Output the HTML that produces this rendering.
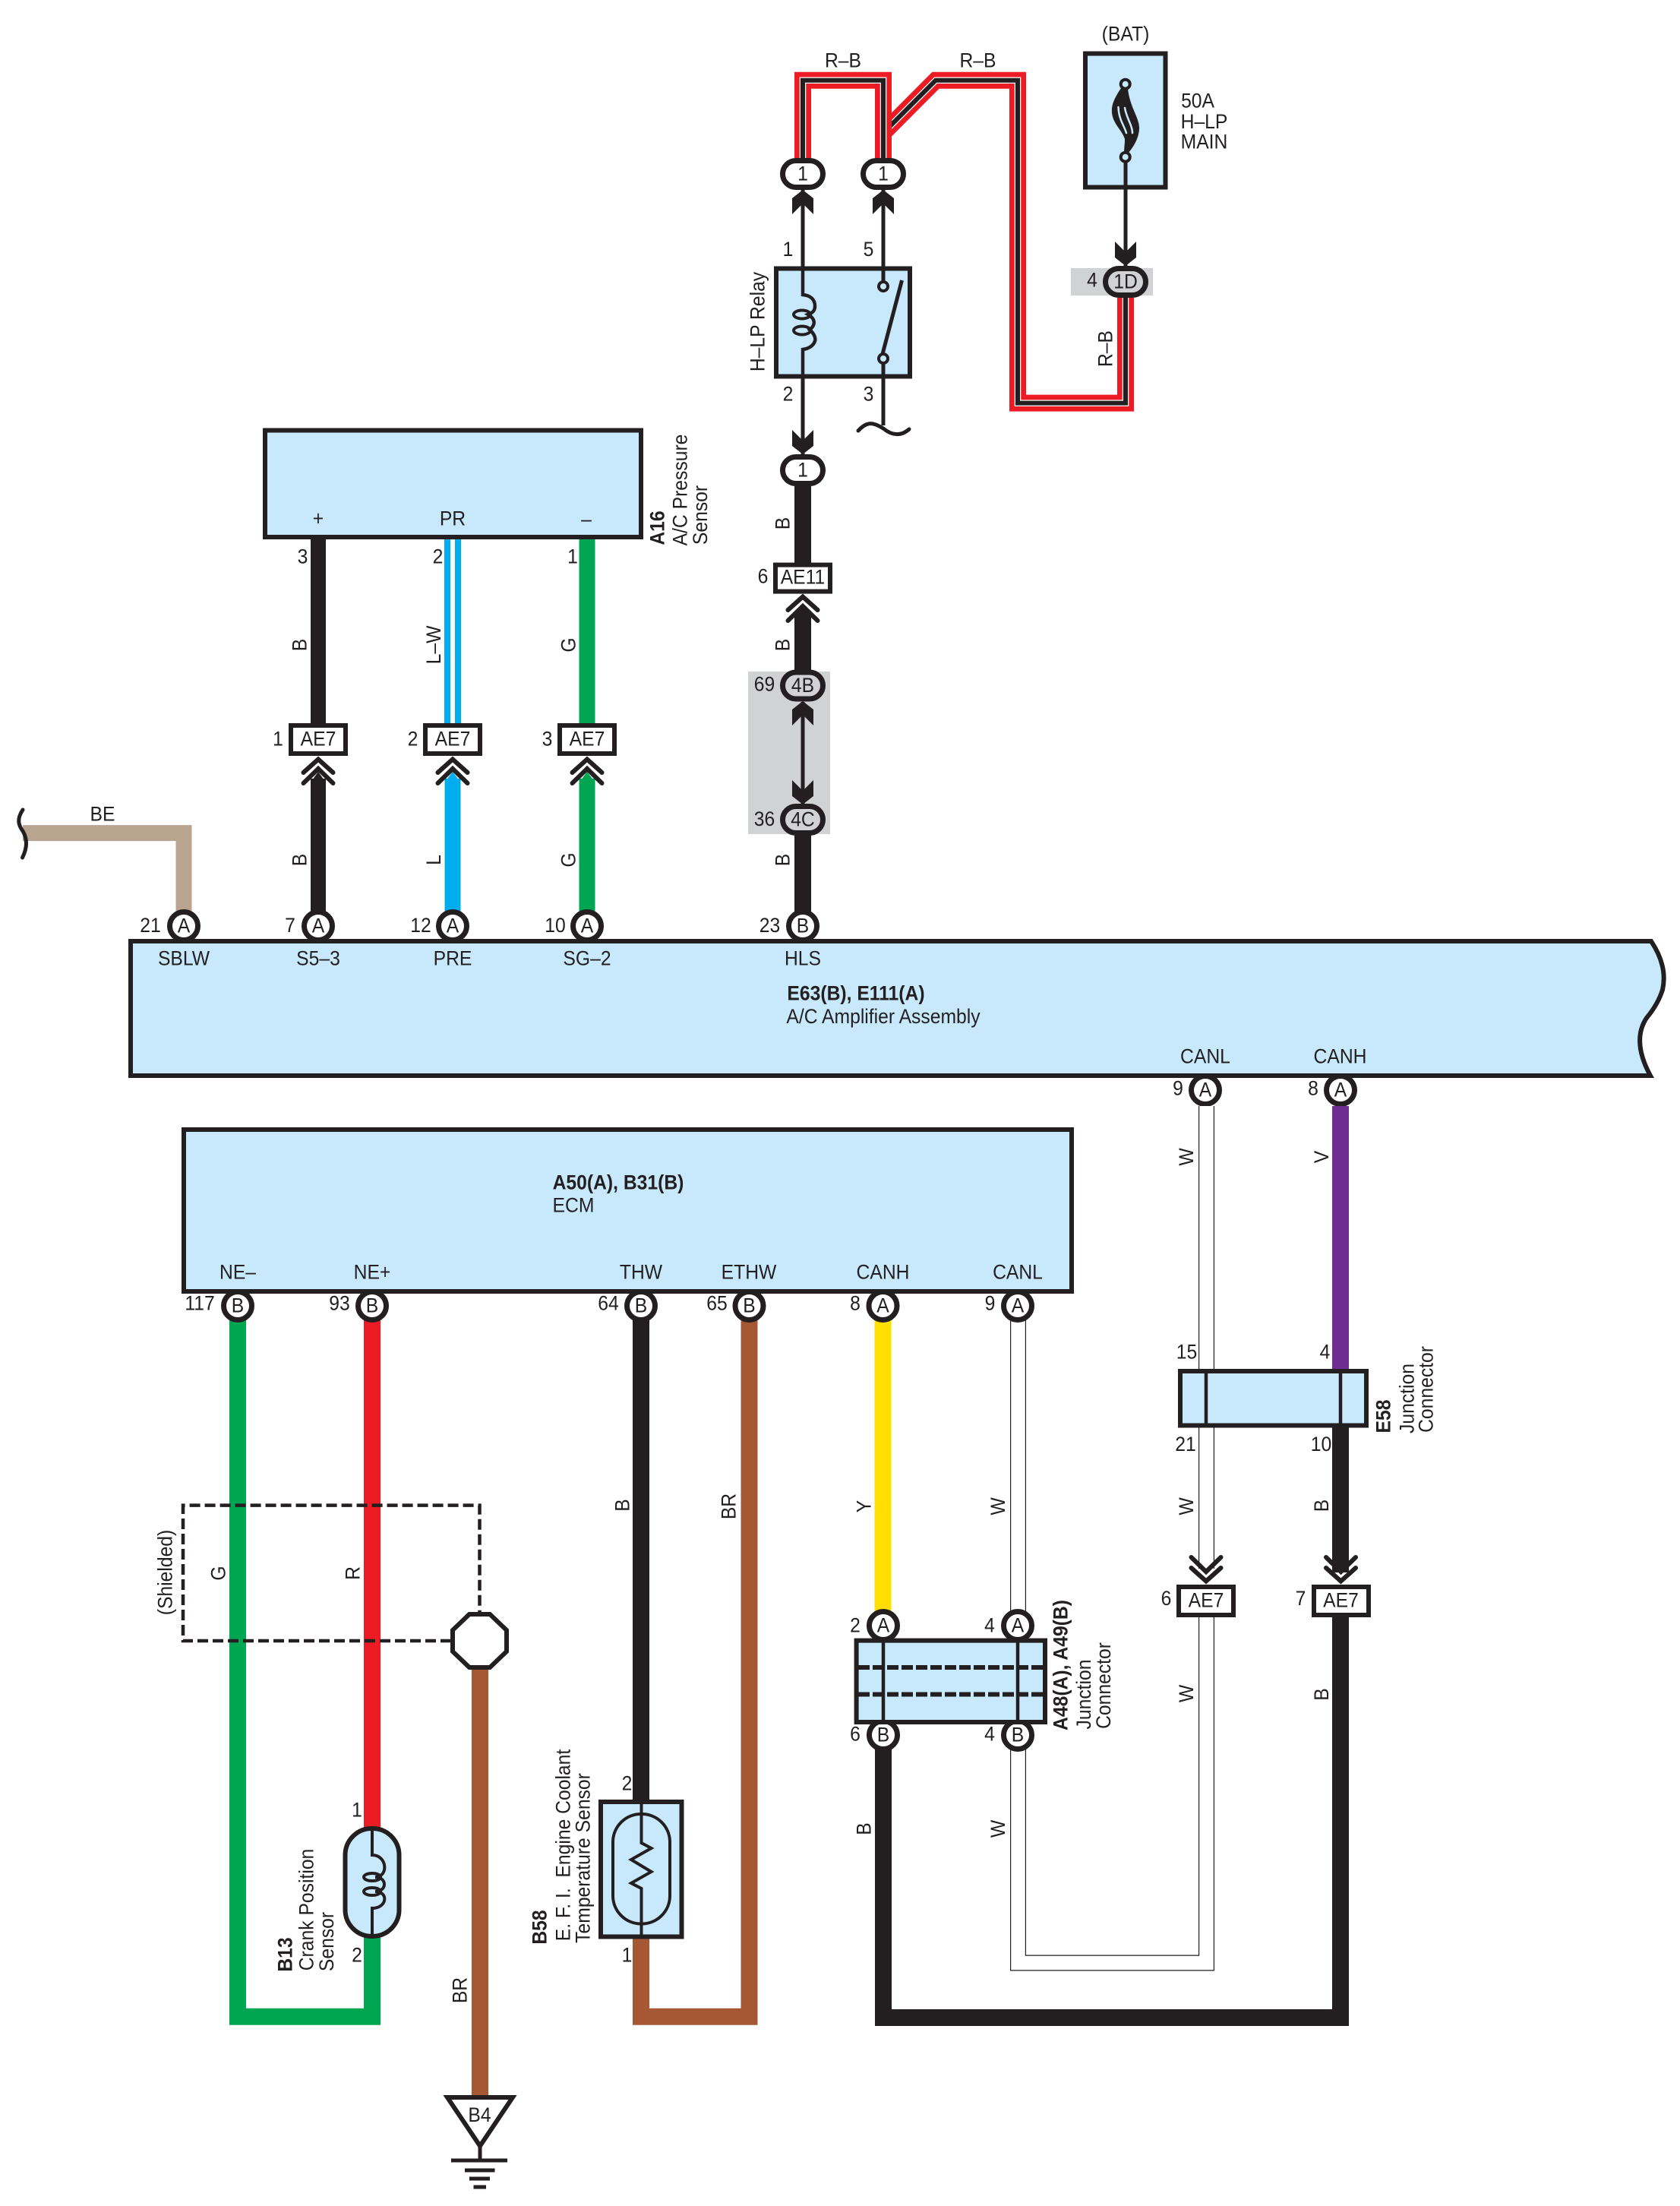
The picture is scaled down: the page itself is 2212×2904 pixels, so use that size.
<!DOCTYPE html>
<html><head><meta charset="utf-8"><title>A/C Amplifier Wiring Diagram</title>
<style>
html,body{margin:0;padding:0;background:#fff}
svg{display:block}
text{font-family:"Liberation Sans",sans-serif;font-size:27px;fill:#231f20;text-anchor:middle;dominant-baseline:central;transform-box:fill-box;transform-origin:center;transform:scaleX(.915)}
.b{font-weight:700}
.box{fill:#c7e9fb;stroke:#231f20;stroke-width:6;stroke-linejoin:miter}
.w{fill:none;stroke-linejoin:miter}
.k{stroke:#231f20}
.c{fill:#fff;stroke:#231f20;stroke-width:7}
.o{fill:#fff;stroke:#231f20;stroke-width:7}
.og{fill:#d1d2d4;stroke:#231f20;stroke-width:7}
.lb{fill:#fff;stroke:#231f20;stroke-width:6}
</style></head><body>
<svg xmlns="http://www.w3.org/2000/svg" width="2212" height="2904" viewBox="0 0 2212 2904">
<defs>
<g id="cu"><path d="M-19.5 22L0 4.5L19.5 22M-19.5 36L0 17L19.5 36" fill="none" stroke="#231f20" stroke-width="6" stroke-linecap="round" stroke-linejoin="miter"/></g>
<polygon id="au" points="0,0 14,11 14,32 0,18 -14,32 -14,11" fill="#231f20"/>
</defs>

<!-- gray backgrounds -->
<rect x="1410" y="353" width="108" height="36" fill="#d1d2d4"/>
<rect x="985" y="884" width="108" height="214" fill="#d1d2d4"/>

<!-- R-B wires -->
<g class="w">
<path d="M1160 178L1232 105.7H1340V530.6H1482V392" stroke="#ed1c24" stroke-width="22"/>
<path d="M1160 178L1232 105.7H1340V530.6H1482V392" stroke="#fff" stroke-width="8.5"/>
<path d="M1160 178L1232 105.7H1340V530.6H1482V392" stroke="#231f20" stroke-width="6"/>
<path d="M1057 212V105.7H1163V212" stroke="#ed1c24" stroke-width="22"/>
<path d="M1057 212V105.7H1163V212" stroke="#fff" stroke-width="8.5"/>
<path d="M1057 212V105.7H1163V212" stroke="#231f20" stroke-width="6"/>
</g>

<!-- thin lines top -->
<g class="w k" stroke-width="5">
<path d="M1057 250V600"/>
<path d="M1163 250V377"/>
<path d="M1163 472V560"/>
<path d="M1482 205V350"/>
<path d="M1057 924V1058"/>
<path d="M1130 567C1142 554 1150 556 1163 564C1175 574 1187 574 1197 565" stroke-linecap="round"/>
</g>
<use href="#au" x="1057" y="250"/>
<use href="#au" x="1163" y="250"/>
<use href="#au" transform="translate(1057 598) scale(1 -1)"/>
<use href="#au" transform="translate(1482 350) scale(1 -1)"/>
<use href="#au" x="1057" y="923"/>
<use href="#au" transform="translate(1057 1059) scale(1 -1)"/>

<!-- fuse box -->
<rect class="box" x="1429" y="70.5" width="105.5" height="176"/>
<path d="M1482 205V350" stroke="#231f20" stroke-width="5" fill="none"/>
<path d="M1476 116C1468 128 1463 138 1464 148C1465 163 1478 172 1481 183C1481 190 1480 195 1480 202L1485 202C1492 194 1500 182 1500 168C1500 155 1487 140 1485 116Z" fill="#231f20"/>
<path d="M1472.5 141C1473 157 1480 165 1483 175M1481 142C1483 155 1491 165 1491 175" fill="none" stroke="#c7e9fb" stroke-width="2.5" stroke-linecap="round"/>
<circle cx="1481.7" cy="110.7" r="6" fill="#c7e9fb" stroke="#231f20" stroke-width="4"/>
<circle cx="1481.7" cy="206.7" r="6" fill="#c7e9fb" stroke="#231f20" stroke-width="4"/>
<rect class="og" x="1455.5" y="353.5" width="53" height="35" rx="17.5"/>
<text x="1482" y="371">1D</text>
<text x="1438" y="369">4</text>
<text x="1482" y="45">(BAT)</text>
<text x="1577" y="133">50A</text>
<text x="1585.5" y="160.5">H–LP</text>
<text x="1585.5" y="187">MAIN</text>
<text x="1110" y="80">R–B</text>
<text x="1287.5" y="80">R–B</text>
<g transform="translate(1456 459) rotate(-90)"><text>R–B</text></g>

<!-- ovals -->
<rect class="o" x="1030.5" y="211.5" width="53" height="35" rx="17.5"/><text x="1057" y="229">1</text>
<rect class="o" x="1136.5" y="211.5" width="53" height="35" rx="17.5"/><text x="1163" y="229">1</text>

<!-- relay -->
<rect class="box" x="1022" y="353.5" width="176" height="142"/>
<g fill="none" stroke="#231f20">
<path d="M1057 350V388C1068 389 1073 395 1073 403C1073 409 1070 412 1064 414C1074 420 1074 428 1066 434C1073 440 1074 446 1073 449C1071 455 1065 459 1057 460V499" stroke-width="4.5"/>
<ellipse cx="1056" cy="414" rx="11" ry="5.5" stroke-width="4"/>
<ellipse cx="1056" cy="435" rx="11" ry="5.5" stroke-width="4"/>
<path d="M1163 350V372" stroke-width="5"/>
<path d="M1163 472V499" stroke-width="5"/>
<path d="M1162 466L1187.5 369" stroke-width="5"/>
</g>
<circle cx="1163" cy="377" r="6" fill="#c7e9fb" stroke="#231f20" stroke-width="4"/>
<circle cx="1163" cy="472" r="6" fill="#c7e9fb" stroke="#231f20" stroke-width="4"/>
<text x="1037.5" y="328.5">1</text><text x="1143.5" y="328.5">5</text>
<text x="1037.5" y="519">2</text><text x="1143.5" y="519">3</text>
<g transform="translate(998 423.5) rotate(-90)"><text>H–LP Relay</text></g>

<!-- center B wire -->
<g class="w k" stroke-width="22">
<path d="M1057 630V745"/>
<path d="M1057 808V890"/>
<path d="M1057 1095V1205"/>
</g>
<polygon points="1046,815 1057,798 1068,815" fill="#231f20"/>
<rect class="o" x="1030.5" y="601.5" width="53" height="35" rx="17.5"/><text x="1057" y="619">1</text>
<rect class="lb" x="1021" y="743.6" width="72" height="35"/><text x="1057" y="760">AE11</text>
<use href="#cu" x="1057" y="781"/>
<text x="1004.5" y="759">6</text>
<rect class="og" x="1030.5" y="885" width="53" height="35" rx="17.5"/><text x="1057" y="902.5">4B</text>
<rect class="og" x="1030.5" y="1061.5" width="53" height="35" rx="17.5"/><text x="1057" y="1079">4C</text>
<text x="1006.5" y="901">69</text><text x="1006.5" y="1078.5">36</text>
<g transform="translate(1031 689) rotate(-90)"><text>B</text></g>
<g transform="translate(1031 849) rotate(-90)"><text>B</text></g>
<g transform="translate(1031 1132) rotate(-90)"><text>B</text></g>

<!-- A16 wires -->
<g class="w">
<path d="M419 707V956" stroke="#231f20" stroke-width="20"/>
<path d="M596 707V956" stroke="#00aeef" stroke-width="22"/>
<path d="M596 707V956" stroke="#fff" stroke-width="6"/>
<path d="M773 707V956" stroke="#00a651" stroke-width="21"/>
<path d="M419 1025V1205" stroke="#231f20" stroke-width="20"/>
<path d="M596 1025V1205" stroke="#00aeef" stroke-width="21"/>
<path d="M773 1025V1205" stroke="#00a651" stroke-width="21"/>
</g>
<polygon points="409,1030 419,1016 429,1030" fill="#231f20"/>
<polygon points="585.5,1030 596,1016 606.5,1030" fill="#00aeef"/>
<polygon points="762.5,1030 773,1016 783.5,1030" fill="#00a651"/>
<rect class="box" x="349" y="566.5" width="495" height="140.5"/>
<text x="419" y="683">+</text><text x="596" y="683">PR</text><text x="772" y="684">–</text>
<text x="398.5" y="733">3</text><text x="576.5" y="733">2</text><text x="754" y="733">1</text>
<g transform="translate(866 695) rotate(-90)"><text class="b">A16</text></g>
<g transform="translate(896 645) rotate(-90)"><text>A/C Pressure</text></g>
<g transform="translate(922.5 678) rotate(-90)"><text>Sensor</text></g>
<rect class="lb" x="383" y="955" width="72" height="37"/><text x="419" y="973">AE7</text>
<rect class="lb" x="560" y="955" width="72" height="37"/><text x="596" y="973">AE7</text>
<rect class="lb" x="737" y="955" width="72" height="37"/><text x="773" y="973">AE7</text>
<use href="#cu" x="419" y="995"/><use href="#cu" x="596" y="995"/><use href="#cu" x="773" y="995"/>
<text x="366" y="973">1</text><text x="543.5" y="973">2</text><text x="720.5" y="973">3</text>
<g transform="translate(395 849) rotate(-90)"><text>B</text></g>
<g transform="translate(571.5 849) rotate(-90)"><text>L–W</text></g>
<g transform="translate(749 849) rotate(-90)"><text>G</text></g>
<g transform="translate(395 1132) rotate(-90)"><text>B</text></g>
<g transform="translate(571.5 1132) rotate(-90)"><text>L</text></g>
<g transform="translate(749 1132) rotate(-90)"><text>G</text></g>

<!-- BE -->
<path class="w" d="M30 1096.6H242V1205" stroke="#b9a58f" stroke-width="21"/>
<path d="M30 1066C22 1078 24 1086 30 1094C36 1104 36 1116 29.5 1129" fill="none" stroke="#231f20" stroke-width="5" stroke-linecap="round"/>
<text x="135" y="1072">BE</text>

<!-- connector circles on main box -->
<g>
<circle class="c" cx="242" cy="1219" r="18.5"/><circle class="c" cx="419" cy="1219" r="18.5"/><circle class="c" cx="596" cy="1219" r="18.5"/><circle class="c" cx="773" cy="1219" r="18.5"/><circle class="c" cx="1057" cy="1219" r="18.5"/>
<circle class="c" cx="1587" cy="1435" r="18.5"/><circle class="c" cx="1765" cy="1435" r="18.5"/>
</g>
<text x="242" y="1219">A</text><text x="419" y="1219">A</text><text x="596" y="1219">A</text><text x="773" y="1219">A</text><text x="1057" y="1219">B</text>
<text x="198" y="1218.5">21</text><text x="382" y="1218.5">7</text><text x="554" y="1218.5">12</text><text x="731" y="1218.5">10</text><text x="1013.5" y="1218.5">23</text>

<!-- main box -->
<path class="box" d="M172 1239H2174Q2196 1272 2189 1303Q2183 1322 2168 1340Q2148 1370 2173 1416H172Z"/>
<text x="242" y="1262">SBLW</text><text x="419" y="1262">S5–3</text><text x="596" y="1262">PRE</text><text x="773" y="1262">SG–2</text><text x="1057" y="1262">HLS</text>
<text class="b" x="1127" y="1308">E63(B), E111(A)</text>
<text x="1163" y="1338.7">A/C Amplifier Assembly</text>
<text x="1587" y="1391">CANL</text><text x="1764.5" y="1391">CANH</text>
<text x="1587" y="1435">A</text><text x="1765" y="1435">A</text>
<text x="1551" y="1433">9</text><text x="1729" y="1433">8</text>

<!-- right wires -->
<g class="w">
<path d="M1765 1456V1805" stroke="#6f2c91" stroke-width="22"/>
<path d="M1765 1876V2070" stroke="#231f20" stroke-width="22"/>
<path d="M1765 2125V2656H1163V2300" stroke="#231f20" stroke-width="22"/>
<path d="M1588.5 1456V1805" stroke="#231f20" stroke-width="21"/>
<path d="M1588.5 1456V1805" stroke="#fff" stroke-width="18.6"/>
<path d="M1588.5 1876V2065" stroke="#231f20" stroke-width="21"/>
<path d="M1588.5 1876V2065" stroke="#fff" stroke-width="18.6"/>
<path d="M1588.5 2125V2584H1340.5V2300" stroke="#231f20" stroke-width="21"/>
<path d="M1588.5 2125V2584H1340.5V2300" stroke="#fff" stroke-width="18.6"/>
<path d="M1162.5 1735V2125" stroke="#ffde00" stroke-width="22"/>
<path d="M1340.5 1735V2125" stroke="#231f20" stroke-width="21"/>
<path d="M1340.5 1735V2125" stroke="#fff" stroke-width="18.6"/>
</g>

<!-- E58 -->
<rect class="box" x="1554" y="1805" width="245" height="71.5"/>
<path d="M1588 1805V1876M1765 1805V1876" stroke="#231f20" stroke-width="4.5" fill="none"/>
<text x="1562.5" y="1780">15</text><text x="1744.5" y="1780">4</text>
<text x="1561" y="1901.5">21</text><text x="1739.5" y="1901.5">10</text>
<g transform="translate(1822 1864.5) rotate(-90)"><text class="b">E58</text></g>
<g transform="translate(1853 1841) rotate(-90)"><text>Junction</text></g>
<g transform="translate(1878 1829) rotate(-90)"><text>Connector</text></g>
<g transform="translate(1562.5 1523) rotate(-90)"><text>W</text></g>
<g transform="translate(1740.5 1523) rotate(-90)"><text>V</text></g>
<g transform="translate(1562.5 1983) rotate(-90)"><text>W</text></g>
<g transform="translate(1740.5 1982) rotate(-90)"><text>B</text></g>
<g transform="translate(1562.5 2229.5) rotate(-90)"><text>W</text></g>
<g transform="translate(1740.5 2230.5) rotate(-90)"><text>B</text></g>

<!-- AE7 lower -->
<rect class="lb" x="1552" y="2089" width="72" height="37"/><text x="1588" y="2107">AE7</text>
<rect class="lb" x="1730" y="2089" width="72" height="37"/><text x="1765.5" y="2107">AE7</text>
<use href="#cu" transform="translate(1588 2086) scale(1 -1)"/>
<use href="#cu" transform="translate(1765.5 2086) scale(1 -1)"/>
<text x="1535.5" y="2104.5">6</text><text x="1712.5" y="2104.5">7</text>

<!-- junction A48 -->
<circle class="c" cx="1163" cy="2140" r="18.5"/><circle class="c" cx="1340" cy="2140" r="18.5"/>
<circle class="c" cx="1163" cy="2284" r="18.5"/><circle class="c" cx="1340" cy="2284" r="18.5"/>
<text x="1163" y="2140">A</text><text x="1340" y="2140">A</text><text x="1163" y="2284">B</text><text x="1340" y="2284">B</text>
<rect class="box" x="1127.6" y="2159.6" width="248.4" height="107.4"/>
<path d="M1163 2160V2267M1340 2160V2267" stroke="#231f20" stroke-width="4.5" fill="none"/>
<path d="M1130 2195H1374M1130 2230.5H1374" stroke="#231f20" stroke-width="6" stroke-dasharray="15 4" fill="none"/>
<text x="1126" y="2140">2</text><text x="1303" y="2140">4</text><text x="1126" y="2283">6</text><text x="1303" y="2283">4</text>
<g transform="translate(1397 2192) rotate(-90)"><text class="b">A48(A), A49(B)</text></g>
<g transform="translate(1427.5 2230.5) rotate(-90)"><text>Junction</text></g>
<g transform="translate(1453.5 2219) rotate(-90)"><text>Connector</text></g>
<g transform="translate(1138 1983) rotate(-90)"><text>Y</text></g>
<g transform="translate(1314.5 1983) rotate(-90)"><text>W</text></g>
<g transform="translate(1138 2407.5) rotate(-90)"><text>B</text></g>
<g transform="translate(1314.5 2407.5) rotate(-90)"><text>W</text></g>

<!-- left wires -->
<g class="w">
<path d="M490 2550V2654.7H313V1730" stroke="#00a651" stroke-width="22"/>
<path d="M490 1730V2406" stroke="#ed1c24" stroke-width="22"/>
<path d="M844 1730V2372" stroke="#231f20" stroke-width="22"/>
<path d="M844 2550V2654.7H986.5V1730" stroke="#a65835" stroke-width="22"/>
<path d="M632 2195V2762" stroke="#a65835" stroke-width="22"/>
</g>

<!-- ECM circles -->
<circle class="c" cx="313" cy="1719" r="18.5"/><circle class="c" cx="490" cy="1719" r="18.5"/><circle class="c" cx="844" cy="1719" r="18.5"/><circle class="c" cx="986.5" cy="1719" r="18.5"/><circle class="c" cx="1162.5" cy="1719" r="18.5"/><circle class="c" cx="1340" cy="1719" r="18.5"/>
<rect class="box" x="242" y="1487" width="1169" height="213"/>
<text x="313" y="1719">B</text><text x="490" y="1719">B</text><text x="844" y="1719">B</text><text x="986.5" y="1719">B</text><text x="1162.5" y="1719">A</text><text x="1340" y="1719">A</text>
<text x="263" y="1716">117</text><text x="447" y="1716">93</text><text x="801" y="1716">64</text><text x="944" y="1716">65</text><text x="1126" y="1716">8</text><text x="1303.5" y="1716">9</text>
<text x="313" y="1675">NE–</text><text x="490" y="1675">NE+</text><text x="844" y="1675">THW</text><text x="986" y="1675">ETHW</text><text x="1162.5" y="1675">CANH</text><text x="1340" y="1675">CANL</text>
<text class="b" x="814" y="1557">A50(A), B31(B)</text>
<text x="755" y="1587">ECM</text>

<!-- shielded -->
<path d="M594 2160H241V1981.6H631.5V2123" fill="none" stroke="#231f20" stroke-width="4.5" stroke-dasharray="14 6"/>
<polygon points="618,2125 645,2125 667,2146 667,2174 645,2195 618,2195 596,2174 596,2146" fill="#fff" stroke="#231f20" stroke-width="6"/>
<g transform="translate(218 2070) rotate(-90)"><text>(Shielded)</text></g>
<g transform="translate(288 2071) rotate(-90)"><text>G</text></g>
<g transform="translate(465 2071) rotate(-90)"><text>R</text></g>
<g transform="translate(606 2620) rotate(-90)"><text>BR</text></g>
<g transform="translate(820 1981.5) rotate(-90)"><text>B</text></g>
<g transform="translate(960 1983) rotate(-90)"><text>BR</text></g>

<!-- ground -->
<polygon points="589,2761 675,2761 632,2825" fill="#fff" stroke="#231f20" stroke-width="6"/>
<text x="631.5" y="2784.5">B4</text>
<path d="M632 2825V2844M594 2844H668M612 2857H651.5M618 2868H645M623.5 2879H640" stroke="#231f20" stroke-width="5" fill="none"/>

<!-- crank sensor -->
<rect class="box" x="454.5" y="2407" width="71" height="142" rx="35"/>
<g fill="none" stroke="#231f20" stroke-width="4">
<path d="M490 2404V2442C510 2442 512 2471 494 2471C510 2471 510 2490 494 2490C512 2490 510 2512 490 2512V2552"/>
<ellipse cx="490" cy="2471" rx="11" ry="5"/>
<ellipse cx="490" cy="2490" rx="11" ry="5"/>
</g>
<text x="470" y="2383">1</text><text x="470" y="2574">2</text>
<g transform="translate(376 2573) rotate(-90)"><text class="b">B13</text></g>
<g transform="translate(404 2514) rotate(-90)"><text>Crank Position</text></g>
<g transform="translate(430.5 2556) rotate(-90)"><text>Sensor</text></g>

<!-- thermo sensor -->
<rect class="box" x="791" y="2372" width="106.5" height="177.5"/>
<rect x="807" y="2388" width="75" height="144.5" rx="37" fill="none" stroke="#231f20" stroke-width="4"/>
<path d="M844.5 2369V2426L857.5 2433L831 2448L857.5 2464L831 2479L844.5 2486V2552" fill="none" stroke="#231f20" stroke-width="4"/>
<text x="825.5" y="2348">2</text><text x="825.5" y="2574">1</text>
<g transform="translate(711 2537) rotate(-90)"><text class="b">B58</text></g>
<g transform="translate(742 2429) rotate(-90)"><text xml:space="preserve">E. F. I.  Engine Coolant</text></g>
<g transform="translate(768 2446) rotate(-90)"><text>Temperature Sensor</text></g>
</svg>
</body></html>
